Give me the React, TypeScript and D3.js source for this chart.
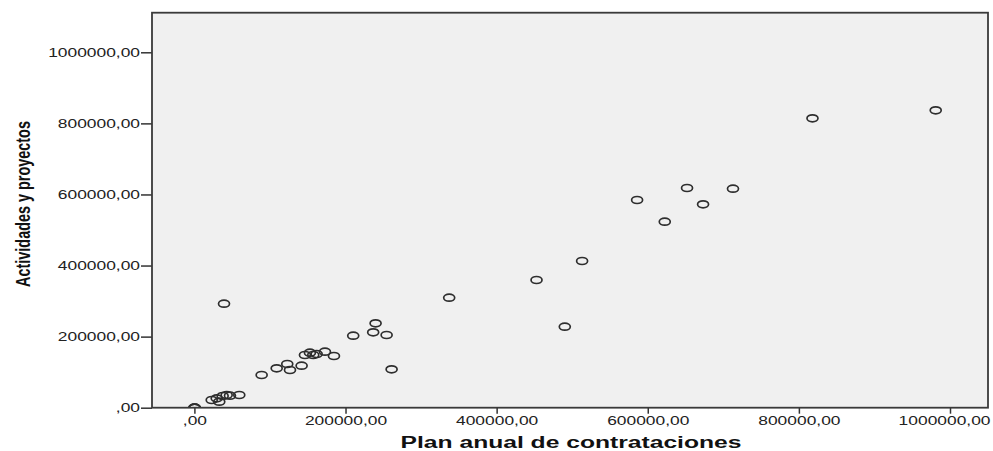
import React, { useEffect, useRef } from 'react';
import * as d3 from 'd3';

// values
const planAnual = [
  0, 0, 800, 22900, 29500, 32900, 37400, 42700, 47100, 59400, 39200,
  89000, 108900, 122900, 126500, 141900, 146300, 152900, 157300, 161800,
  172800, 184700, 210200, 239800, 236600, 254400, 261000, 337200, 452800,
  490200, 513100, 585900, 622500, 652000, 673200, 712800, 818000, 981100
];
const actividades = [
  0, 0, 0, 21700, 26400, 16900, 32900, 35700, 33800, 35700, 292600,
  92000, 110900, 123000, 106100, 118200, 148300, 154800, 148300, 151100,
  157600, 145500, 202600, 237500, 212200, 204600, 108000, 309500, 359300,
  227900, 412800, 584400, 523400, 618200, 572300, 616200, 814300, 836800
];
const xTicks = [0, 200000, 400000, 600000, 800000, 1000000];
const yTicks = [0, 200000, 400000, 600000, 800000, 1000000];
const xTitle = 'Plan anual de contrataciones';
const yTitle = 'Actividades y proyectos';

const fmt = (v) => (v === 0 ? ',00' : v + ',00');
const STRETCH = 1.45; // the picture is widened horizontally
const FONT = '"Liberation Sans", Arial, sans-serif';

const App = () => {
  const ref = useRef(null);
  useEffect(() => {
    d3.select(ref.current).selectAll('*').remove();
    draw(ref.current);
  }, []);
  return (
    <svg
      ref={ref}
      width={993}
      height={451}
      style={{ position: 'absolute', left: 0, top: 0, display: 'block' }}
    />
  );
};

const draw = (node) => {
  const svg = d3.select(node);
  const left = 152, right = 988, top = 12.7, bottom = 407.7;

  const x = d3.scaleLinear().domain([0, 1000000]).range([194.4, 950]);
  const y = d3.scaleLinear().domain([0, 1000000]).range([407.7, 52.3]);

  svg.append('rect').attr('width', 993).attr('height', 451).attr('fill', '#fff');

  svg.append('defs').append('clipPath').attr('id', 'plotclip')
    .append('rect')
    .attr('x', left).attr('y', top)
    .attr('width', right - left).attr('height', bottom - top);

  svg.append('rect')
    .attr('x', left).attr('y', top)
    .attr('width', right - left).attr('height', bottom - top)
    .attr('fill', '#f0f0f0');

  const data = planAnual.map((v, i) => ({ x: v, y: actividades[i] }));

  svg.append('g')
    .attr('clip-path', 'url(#plotclip)')
    .selectAll('ellipse')
    .data(data)
    .join('ellipse')
    .attr('cx', d => x(d.x))
    .attr('cy', d => y(d.y))
    .attr('rx', 5.5)
    .attr('ry', 3.5)
    .attr('fill', 'none')
    .attr('stroke', '#2e2e2e')
    .attr('stroke-width', 1.7);

  // x axis
  const xAxisGroup = svg.append('g')
    .attr('transform', 'translate(0,' + bottom + ')');
  xAxisGroup.call(
    d3.axisBottom(x).tickValues(xTicks).tickFormat(fmt).tickSize(6).tickPadding(3)
  );
  xAxisGroup.select('.domain').remove();
  xAxisGroup.selectAll('line').attr('stroke', '#333').attr('stroke-width', 1.5);
  xAxisGroup.selectAll('text')
    .attr('transform', 'scale(' + STRETCH + ',1)')
    .attr('y', 9)
    .style('font-family', FONT)
    .style('font-size', '12px')
    .attr('fill', '#222');
  // last label sits against the right edge of the picture
  xAxisGroup.selectAll('text')
    .filter(d => d === 1000000)
    .attr('text-anchor', 'end')
    .attr('x', 40 / STRETCH);

  // y axis
  const yAxisGroup = svg.append('g')
    .attr('transform', 'translate(' + left + ',0)');
  yAxisGroup.call(
    d3.axisLeft(y).tickValues(yTicks).tickFormat(fmt).tickSize(11).tickPadding(1)
  );
  yAxisGroup.select('.domain').remove();
  yAxisGroup.selectAll('line').attr('stroke', '#333').attr('stroke-width', 1.5);
  yAxisGroup.selectAll('text')
    .attr('transform', 'scale(' + STRETCH + ',1)')
    .attr('x', -12 / STRETCH)
    .style('font-family', FONT)
    .style('font-size', '12px')
    .attr('fill', '#222');

  // frame
  svg.append('rect')
    .attr('x', left).attr('y', top)
    .attr('width', right - left).attr('height', bottom - top)
    .attr('fill', 'none')
    .attr('stroke', '#3a3a3a')
    .attr('stroke-width', 1.8);

  // titles
  svg.append('text')
    .attr('transform', 'translate(571,448) scale(' + STRETCH + ',1)')
    .attr('text-anchor', 'middle')
    .style('font-family', FONT)
    .style('font-size', '17px')
    .style('font-weight', 'bold')
    .attr('fill', '#111')
    .text(xTitle);

  const yt = svg.append('text')
    .attr('text-anchor', 'middle')
    .attr('dy', '0.33em')
    .style('font-family', FONT)
    .style('font-size', '20px')
    .style('font-weight', 'bold')
    .attr('fill', '#111')
    .text(yTitle);
  const natural = yt.node().getComputedTextLength() || 230;
  yt.attr('transform', 'translate(23,204) rotate(-90) scale(' + (166 / natural) + ',1)');
};

export default App;
